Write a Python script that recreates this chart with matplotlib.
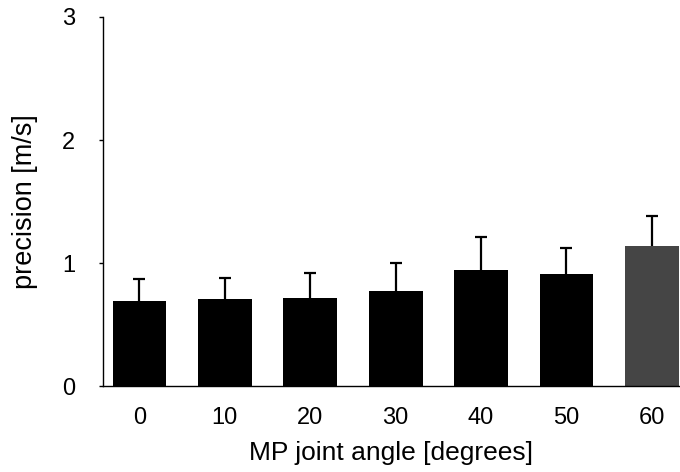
import matplotlib
matplotlib.use('Agg')
import matplotlib.pyplot as plt
import numpy as np

plt.rcParams['font.family'] = ['Liberation Sans', 'DejaVu Sans']

angles = ['0', '10', '20', '30', '40', '50', '60']
precision = [0.69, 0.71, 0.72, 0.77, 0.94, 0.91, 1.14]
err_up = [0.18, 0.17, 0.20, 0.23, 0.27, 0.21, 0.24]
colors = ['black'] * 6 + ['#454545']

fig = plt.figure(figsize=(6.8, 4.72), dpi=100)
ax = fig.add_axes([0.151, 0.182, 0.849, 0.782])

x = np.arange(len(angles))
eb = ax.errorbar(x, precision, yerr=[np.zeros(len(x)), err_up], fmt='none',
                 ecolor='black', elinewidth=1.6, capsize=4.5, capthick=1.6, zorder=1)
# only keep the upper caps
eb[1][0].set_visible(False)
ax.bar(x, precision, width=0.63, color=colors, zorder=2)

ax.set_xlim(-0.43, 6.33)
ax.set_ylim(0, 3)
ax.set_yticks([0, 1, 2, 3])
ax.set_xticks(x)
ax.set_xticklabels(angles)

ax.spines['top'].set_visible(False)
ax.spines['right'].set_visible(False)
ax.spines['left'].set_linewidth(1.0)
ax.spines['bottom'].set_linewidth(1.0)
ax.tick_params(axis='y', length=3, width=1.0, labelsize=17, pad=17)
ax.tick_params(axis='x', length=0, labelsize=17, pad=15)

ax.set_xlabel('MP joint angle [degrees]', fontsize=19, labelpad=9)
ax.set_ylabel('precision [m/s]', fontsize=19.5, labelpad=17)

fig.savefig('out.png', dpi=100)
